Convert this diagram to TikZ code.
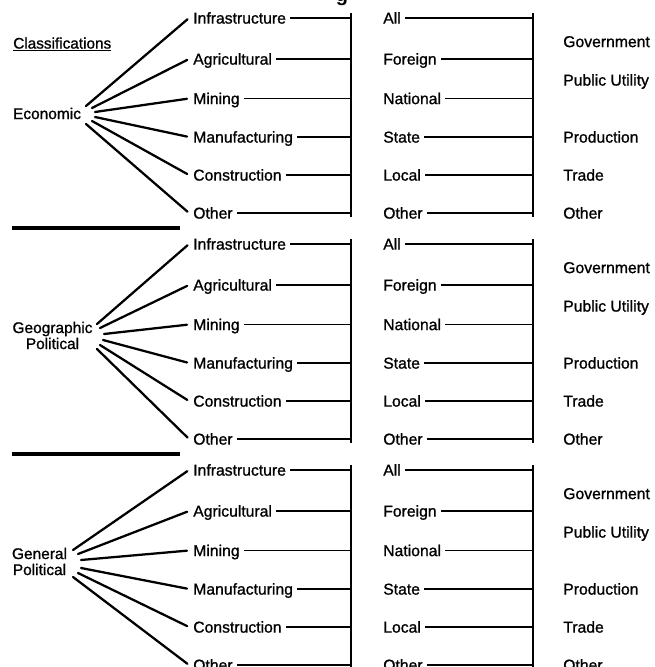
\documentclass[tikz,border=0pt]{standalone}
\usepackage{fontspec}
\setmainfont{Liberation Sans}
\newfontfamily\scanfont{Liberation Sans}[FakeBold=1]
\newfontfamily\scanbold{Liberation Sans Bold}
\begin{document}
\begin{tikzpicture}[x=0.75pt,y=-0.75pt,
  txt/.style={inner ysep=0pt, inner xsep=3pt, font=\scanfont\fontsize{11.8pt}{12pt}\selectfont,
              text height=8.4pt, text depth=0pt, anchor=west},
  lab/.style={inner sep=0pt, align=center, font=\scanfont\fontsize{11.6pt}{12pt}\selectfont},
  fan/.style={line width=1.7pt, line cap=round, shorten >=1.5pt},
  hline/.style={line width=1pt},
  vline/.style={line width=1pt},
  bar/.style={line width=3pt}]
\useasboundingbox (0,0) rectangle (655,667);

% cut-off title fragment
\node[inner sep=0pt, anchor=base, font=\scanbold\fontsize{15pt}{15pt}\selectfont] (ttl) at (342,1.5) {g};

% header
\node[txt, inner xsep=0pt, font=\scanfont\fontsize{11.5pt}{12pt}\selectfont] (cls) at (13,43) {\underline{Classifications}};

% left labels
\node[lab] (lab1) at (47,113.5) {Economic};
\node[lab] (lab2) at (52.5,335.5) {Geographic\\Political};
\node[lab] (lab3) at (39.5,561.5) {General\\Political};

% separator bars
\draw[bar] (12,228) -- (180,228);
\draw[bar] (12,454) -- (180,454);

% fan start points
\foreach \s/\i/\x/\y in {
  1/1/86/106, 1/2/92/108, 1/3/95/112, 1/4/95/117, 1/5/92/121, 1/6/86/124,
  2/1/97/324, 2/2/100/328, 2/3/104/334, 2/4/103/340, 2/5/100/345, 2/6/97/349,
  3/1/73/550, 3/2/78/554, 3/3/81/560, 3/4/81/568, 3/5/78/573, 3/6/73/577}
  { \coordinate (f\s\i) at (\x,\y); }

\foreach \s/\dy in {1/0, 2/226, 3/452}{
  % vertical bars
  \coordinate (vlt\s) at (351,{13+\dy});
  \coordinate (vlb\s) at (351,{217+\dy});
  \coordinate (vrt\s) at (533,{13+\dy});
  \coordinate (vrb\s) at (533,{217+\dy});
  \draw[vline] (vlt\s) -- (vlb\s);
  \draw[vline] (vrt\s) -- (vrb\s);
  % industry items
  \foreach \i/\t/\y in {1/Infrastructure/18, 2/Agricultural/59, 3/Mining/98.5,
                        4/Manufacturing/137, 5/Construction/175, 6/Other/213}{
    \node[txt] (it\s\i) at (189,{\y+\dy}) {\t};
    \draw[fan] (f\s\i) -- (it\s\i.west);
    \draw[hline] (it\s\i.east) -- (it\s\i.east -| vlt\s);
  }
  % jurisdiction items
  \foreach \i/\t/\y in {1/All/18, 2/Foreign/59, 3/National/98.5,
                        4/State/137, 5/Local/175, 6/Other/213}{
    \node[txt] (jt\s\i) at (379,{\y+\dy}) {\t};
    \draw[hline] (jt\s\i.east) -- (jt\s\i.east -| vrt\s);
  }
  % ownership items
  \foreach \i/\t/\y in {1/Government/41.5, 2/Public Utility/80,
                        3/Production/137, 4/Trade/175, 5/Other/213}{
    \node[txt] (ot\s\i) at (559,{\y+\dy}) {\t};
  }
}
\end{tikzpicture}
\end{document}
